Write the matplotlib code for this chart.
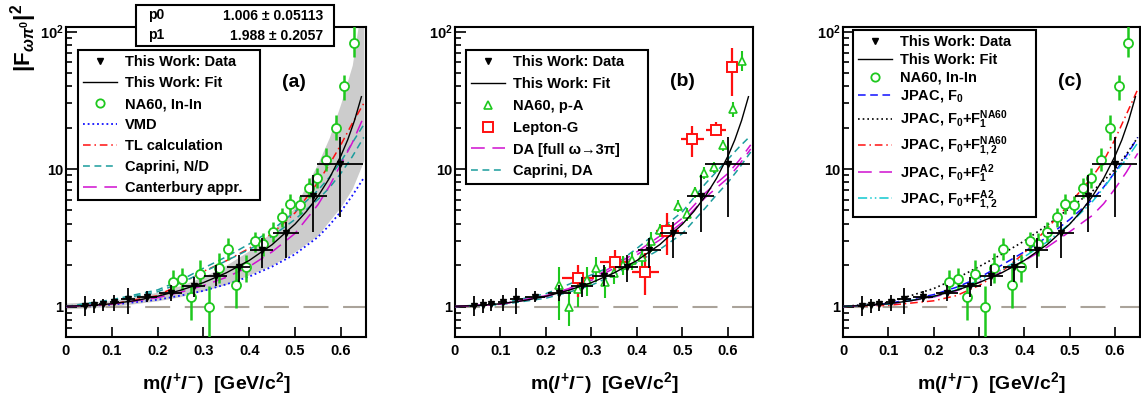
import numpy as np
import matplotlib
matplotlib.use('Agg')
import matplotlib.pyplot as plt
from matplotlib.lines import Line2D
from matplotlib.patches import Rectangle
from matplotlib.ticker import FixedLocator, FixedFormatter, NullFormatter

plt.rcParams['font.family'] = ['Liberation Sans', 'DejaVu Sans']
plt.rcParams['font.weight'] = 'bold'
plt.rcParams['mathtext.fontset'] = 'custom'
plt.rcParams['mathtext.rm'] = 'Liberation Sans:bold'
plt.rcParams['mathtext.it'] = 'Liberation Sans:italic:bold'
plt.rcParams['mathtext.bf'] = 'Liberation Sans:bold'
plt.rcParams['mathtext.sf'] = 'Liberation Sans:bold'

# ---------------- data: This Work ----------------
work_x = [0.041, 0.062, 0.080, 0.105, 0.135, 0.176, 0.229, 0.279, 0.327, 0.377, 0.427, 0.480, 0.540, 0.599]
work_xerr = [0.008, 0.008, 0.008, 0.010, 0.015, 0.022, 0.025, 0.025, 0.025, 0.025, 0.025, 0.029, 0.029, 0.050]
work_y = [1.01, 1.02, 1.04, 1.08, 1.13, 1.18, 1.26, 1.41, 1.67, 1.95, 2.58, 3.40, 6.35, 10.9]
work_lo = [0.85, 0.90, 0.92, 0.92, 0.88, 1.08, 1.09, 1.18, 1.40, 1.52, 1.90, 2.24, 3.50, 4.5]
work_hi = [1.19, 1.14, 1.14, 1.22, 1.36, 1.29, 1.44, 1.65, 2.00, 2.37, 3.13, 4.13, 9.00, 17.0]

# fit curve as drawn
fit_x = [0, 0.05, 0.1, 0.15, 0.2, 0.25, 0.3, 0.35, 0.4, 0.45, 0.5, 0.525, 0.55, 0.575, 0.6, 0.615, 0.63, 0.645]
fit_y = [1.006, 1.016, 1.047, 1.102, 1.187, 1.312, 1.492, 1.758, 2.163, 2.819, 3.976, 4.92, 6.33, 8.57, 12.45, 16.3, 22.6, 33.6]

# ---------------- NA60 In-In ----------------
na60in_x = [0.233, 0.253, 0.273, 0.292, 0.313, 0.333, 0.353, 0.372, 0.392, 0.412, 0.431, 0.451, 0.471, 0.490, 0.510, 0.530, 0.548, 0.568, 0.589, 0.608, 0.628]
na60in_y = [1.50, 1.58, 1.18, 1.72, 0.99, 1.90, 2.62, 1.44, 1.95, 3.00, 2.85, 3.50, 4.45, 5.60, 5.50, 7.30, 8.60, 11.7, 19.9, 40.0, 82.8]
na60in_lo = [1.26, 1.32, 0.80, 1.40, 0.60, 1.48, 2.19, 0.98, 1.52, 2.50, 2.35, 2.95, 3.80, 4.70, 4.70, 6.20, 7.30, 9.6, 16.2, 31.6, 65.0]
na60in_hi = [1.85, 1.90, 1.40, 2.18, 1.40, 2.45, 3.15, 2.00, 2.37, 3.50, 3.45, 4.10, 5.20, 6.60, 6.40, 8.60, 10.1, 14.2, 24.6, 48.0, 110.0]

# ---------------- NA60 p-A ----------------
na60pa_x = [0.229, 0.251, 0.270, 0.290, 0.310, 0.330, 0.350, 0.370, 0.390, 0.410, 0.430, 0.450, 0.470, 0.490, 0.510, 0.528, 0.548, 0.569, 0.590, 0.611, 0.630]
na60pa_y = [1.44, 1.00, 1.35, 1.56, 1.90, 1.52, 1.76, 2.00, 2.18, 2.28, 3.00, 3.60, 3.60, 5.40, 4.70, 6.80, 9.30, 10.3, 14.9, 27.4, 61.0]
na60pa_lo = [0.80, 0.72, 1.00, 1.20, 1.50, 1.15, 1.45, 1.70, 1.85, 1.95, 2.50, 3.20, 3.20, 4.90, 4.20, 6.20, 8.50, 9.4, 13.5, 24.0, 52.0]
na60pa_hi = [1.95, 1.30, 1.70, 1.95, 2.30, 1.95, 2.10, 2.35, 2.50, 2.60, 3.50, 4.00, 4.00, 6.00, 5.20, 7.40, 10.3, 11.3, 16.4, 31.0, 72.0]

# ---------------- Lepton-G ----------------
lepg_x = [0.271, 0.352, 0.418, 0.467, 0.522, 0.574, 0.608]
lepg_xerr = [0.035, 0.033, 0.030, 0.025, 0.025, 0.022, 0.008]
lepg_y = [1.62, 2.12, 1.79, 3.55, 16.5, 19.3, 55.0]
lepg_lo = [1.18, 1.65, 1.22, 2.37, 12.2, 17.6, 34.0]
lepg_hi = [2.00, 2.57, 2.44, 4.75, 20.6, 22.0, 76.0]

# ---------------- theory curves ----------------
grid = [0, 0.1, 0.2, 0.25, 0.3, 0.35, 0.4, 0.45, 0.5, 0.55, 0.575, 0.6, 0.625, 0.65]
band_hi = [1.06, 1.10, 1.27, 1.42, 1.65, 2.0, 2.55, 3.5, 5.3, 11.0, 17.0, 30.0, 57.0, 200.0]
band_lo = [0.96, 1.00, 1.10, 1.18, 1.30, 1.45, 1.70, 2.0, 2.5, 3.3, 4.2, 5.3, 7.2, 11.5]
vmd = [1.0, 1.03, 1.12, 1.20, 1.30, 1.45, 1.65, 1.95, 2.4, 3.2, 3.9, 4.9, 6.4, 8.6]
tl = [1.0, 1.04, 1.20, 1.45, 1.80, 2.15, 2.65, 3.4, 4.8, 8.0, 10.8, 15.0, 21.5, 30.0]
caprini_nd_hi = [1.0, 1.12, 1.32, 1.55, 1.90, 2.30, 2.85, 3.6, 4.9, 7.0, 8.7, 11.3, 15.5, 21.0]
caprini_nd_lo = [1.0, 1.10, 1.28, 1.48, 1.78, 2.15, 2.60, 3.25, 4.3, 6.0, 7.3, 9.3, 12.3, 17.0]
canterbury = [1.0, 1.04, 1.16, 1.27, 1.42, 1.63, 1.95, 2.5, 3.4, 5.5, 7.5, 10.8, 15.5, 24.0]

da_hi = [1.0, 1.04, 1.20, 1.35, 1.60, 1.98, 2.50, 3.25, 4.4, 6.7, 7.9, 9.3, 11.6, 15.0]
da_lo = [1.0, 1.04, 1.18, 1.32, 1.55, 1.90, 2.38, 3.05, 4.1, 6.2, 7.3, 8.6, 10.8, 14.0]
caprini_da_hi = [1.0, 1.05, 1.24, 1.45, 1.70, 2.00, 2.65, 3.6, 4.9, 7.8, 9.6, 11.8, 14.5, 17.5]
caprini_da_lo = [1.0, 1.03, 1.15, 1.27, 1.43, 1.70, 2.10, 2.6, 3.4, 5.2, 6.5, 8.0, 10.2, 13.3]

jpac_f0 = [1.0, 1.05, 1.22, 1.38, 1.62, 2.0, 2.5, 3.2, 4.3, 6.0, 7.4, 9.5, 12.5, 17.0]
jpac_na60_1 = [1.0, 1.07, 1.35, 1.60, 1.95, 2.4, 3.0, 3.9, 5.2, 6.9, 8.2, 10.0, 12.8, 17.0]
jpac_na60_12 = [1.0, 1.02, 1.10, 1.20, 1.42, 1.8, 2.45, 3.7, 5.6, 8.8, 11.5, 16.5, 25.0, 38.0]
jpac_a2_1 = [1.0, 1.04, 1.17, 1.30, 1.50, 1.78, 2.15, 2.7, 3.5, 4.6, 5.6, 7.2, 9.5, 13.0]
jpac_a2_12 = [1.0, 1.04, 1.18, 1.32, 1.55, 1.85, 2.30, 2.95, 4.0, 5.8, 7.3, 9.4, 11.8, 15.5]

labels_a = ['This Work: Data', 'This Work: Fit', 'NA60, In-In', 'VMD', 'TL calculation',
            'Caprini, N/D', 'Canterbury appr.']
labels_b = ['This Work: Data', 'This Work: Fit', 'NA60, p-A', 'Lepton-G',
            'DA [full \u03c9\u21923\u03c0]', 'Caprini, DA']
labels_c = ['This Work: Data', 'This Work: Fit', 'NA60, In-In', 'JPAC, F$_\\mathrm{0}$',
            'JPAC, F$_\\mathrm{0}$+F$_\\mathrm{1}^\\mathrm{NA60}$',
            'JPAC, F$_\\mathrm{0}$+F$_\\mathrm{1,2}^\\mathrm{NA60}$',
            'JPAC, F$_\\mathrm{0}$+F$_\\mathrm{1}^\\mathrm{A2}$',
            'JPAC, F$_\\mathrm{0}$+F$_\\mathrm{1,2}^\\mathrm{A2}$']

# ---------------- styles ----------------
GREEN = '#1ec81e'
TEAL = '#1a9c9c'
CYAN = '#10c8d0'
MAG = '#d010d0'
RED = '#ff1010'
BLUE = '#1010ff'
LW = 1.1

sty_vmd = dict(color=BLUE, lw=1.3, dashes=(1, 1.6))
sty_tl = dict(color=RED, lw=LW, dashes=(5, 2.5, 1, 2.5))
sty_teal = dict(color=TEAL, lw=LW, dashes=(4.5, 3))
sty_cant = dict(color=MAG, lw=LW, dashes=(9, 5))
sty_da = dict(color=MAG, lw=LW, dashes=(9, 5))
sty_f0 = dict(color=BLUE, lw=LW, dashes=(5, 3))
sty_na1 = dict(color='black', lw=1.2, dashes=(1, 1.8))
sty_na12 = dict(color=RED, lw=LW, dashes=(5, 2.5, 1, 2.5))
sty_a21 = dict(color=MAG, lw=LW, dashes=(9, 5))
sty_a212 = dict(color=CYAN, lw=LW, dashes=(6, 2, 1, 2, 1, 2))
sty_fit = dict(color='black', lw=1.0)

W, H = 1141, 401
fig = plt.figure(figsize=(W / 100, H / 100), dpi=100)

def px_axes(l, r, t, b):
    return fig.add_axes([l / W, 1 - b / H, (r - l) / W, (b - t) / H])

ax_a = px_axes(66, 366, 27, 337)
ax_b = px_axes(455, 753, 27, 337)
ax_c = px_axes(843, 1140, 27, 337)

def setup(ax):
    ax.set_yscale('log')
    ax.set_xlim(0, 0.655)
    ax.set_ylim(0.6, 108)
    ax.axhline(1.0, color='#aaa39a', lw=1.5, dashes=(12, 7), zorder=1)
    ax.xaxis.set_major_locator(FixedLocator([0, 0.1, 0.2, 0.3, 0.4, 0.5, 0.6]))
    ax.xaxis.set_major_formatter(FixedFormatter(['0', '0.1', '0.2', '0.3', '0.4', '0.5', '0.6']))
    ax.yaxis.set_major_locator(FixedLocator([1, 10, 100]))
    ax.yaxis.set_major_formatter(FixedFormatter(['1', '10', '10$^2$']))
    minors = [0.6, 0.7, 0.8, 0.9] + list(range(2, 10)) + list(range(20, 100, 10))
    ax.yaxis.set_minor_locator(FixedLocator(minors))
    ax.yaxis.set_minor_formatter(NullFormatter())
    ax.tick_params(which='both', direction='in', top=False, right=False, width=1.2,
                   labelsize=10.5, colors='black')
    ax.tick_params(axis='y', which='major', length=8, pad=2)
    ax.tick_params(axis='y', which='minor', length=4.5)
    ax.tick_params(axis='x', which='major', length=7, pad=5)
    for s in ax.spines.values():
        s.set_linewidth(1.5)
    ax.set_xlabel('m($\\mathit{l}^{+}\\mathit{l}^{-}$)  [GeV/c$^{2}$]', fontsize=14,
                  fontweight='bold')
    ax.xaxis.set_label_coords(0.5, -(383 - 337) / 310)
    ax.xaxis.label.set_va('center')

def errpts(ax, x, y, lo, hi, xerr=None, **kw):
    y = np.asarray(y); lo = np.asarray(lo); hi = np.asarray(hi)
    return ax.errorbar(x, y, yerr=[y - lo, hi - y], xerr=xerr, capsize=0, **kw)

def draw_work(ax):
    errpts(ax, work_x, work_y, work_lo, work_hi, xerr=work_xerr, fmt='v', color='black',
           ms=4.5, elinewidth=1.3, zorder=6)
    ax.plot(fit_x, fit_y, **sty_fit, zorder=7)

def draw_na60in(ax):
    errpts(ax, na60in_x, na60in_y, na60in_lo, na60in_hi, fmt='o', color=GREEN, ms=6.5,
           mfc='white', mec=GREEN, mew=1.3, elinewidth=1.8, zorder=5)

def legend(ax, handles, labels, x0, ytop, w, spacing):
    lg = ax.legend(handles, labels, loc='upper left', bbox_to_anchor=(x0, ytop - 0.6, w, 0.6),
                   mode='expand', borderaxespad=0, fancybox=False, framealpha=1,
                   edgecolor='black', prop=dict(size=10.5, weight='bold'),
                   handlelength=2.3, handletextpad=0.6, labelspacing=spacing,
                   borderpad=0.35)
    lg.get_frame().set_linewidth(1.5)
    lg.set_zorder(10)
    return lg

# ---------- panel (a) ----------
setup(ax_a)
ax_a.fill_between(grid, band_lo, band_hi, color='#cccccc', lw=0, zorder=0.5)
ax_a.plot(grid, vmd, **sty_vmd, zorder=3)
ax_a.plot(grid, tl, **sty_tl, zorder=3)
ax_a.plot(grid, caprini_nd_hi, **sty_teal, zorder=3)
ax_a.plot(grid, caprini_nd_lo, **sty_teal, zorder=3)
ax_a.plot(grid, canterbury, **sty_cant, zorder=3)
draw_na60in(ax_a)
draw_work(ax_a)

h_data = Line2D([], [], marker='v', color='black', ls='none', ms=5)
h_fit = Line2D([], [], **sty_fit)
h_na60in = Line2D([], [], marker='o', ls='none', mfc='white', mec=GREEN, mew=1.3, ms=6)
h_a = [h_data, h_fit, h_na60in, Line2D([], [], **sty_vmd), Line2D([], [], **sty_tl),
       Line2D([], [], **sty_teal), Line2D([], [], **sty_cant)]
legend(ax_a, h_a, labels_a, (78 - 66) / 300, (337 - 50) / 310, (260 - 78) / 300, 0.48)
ax_a.text(0.76, 0.82, '(a)', transform=ax_a.transAxes, fontsize=14, fontweight='bold',
          ha='center', va='center')

# ---------- panel (b) ----------
setup(ax_b)
ax_b.plot(grid, caprini_da_hi, **sty_teal, zorder=3)
ax_b.plot(grid, caprini_da_lo, **sty_teal, zorder=3)
ax_b.plot(grid, da_hi, **sty_da, zorder=3)
ax_b.plot(grid, da_lo, **sty_da, zorder=3)
errpts(ax_b, na60pa_x, na60pa_y, na60pa_lo, na60pa_hi, fmt='^', color=GREEN, ms=6,
       mfc='white', mec=GREEN, mew=1.2, elinewidth=1.5, zorder=5)
errpts(ax_b, lepg_x, lepg_y, lepg_lo, lepg_hi, xerr=lepg_xerr, fmt='s', color=RED, ms=6.5,
       mfc='white', mec=RED, mew=1.4, elinewidth=1.6, zorder=5)
draw_work(ax_b)
h_b = [h_data, h_fit,
       Line2D([], [], marker='^', ls='none', mfc='white', mec=GREEN, mew=1.2, ms=6),
       Line2D([], [], marker='s', ls='none', mfc='white', mec=RED, mew=1.4, ms=6.5),
       Line2D([], [], **sty_da), Line2D([], [], **sty_teal)]
legend(ax_b, h_b, labels_b, (466 - 455) / 298, (337 - 50) / 310, (648 - 466) / 298, 0.54)
ax_b.text((682 - 455) / 298, (337 - 82) / 310, '(b)', transform=ax_b.transAxes,
          fontsize=14, fontweight='bold', ha='center', va='center')

# ---------- panel (c) ----------
setup(ax_c)
ax_c.plot(grid, jpac_f0, **sty_f0, zorder=3)
ax_c.plot(grid, jpac_na60_1, **sty_na1, zorder=3)
ax_c.plot(grid, jpac_na60_12, **sty_na12, zorder=3)
ax_c.plot(grid, jpac_a2_1, **sty_a21, zorder=3)
ax_c.plot(grid, jpac_a2_12, **sty_a212, zorder=3)
draw_na60in(ax_c)
draw_work(ax_c)
h_c = [h_data, h_fit, h_na60in, Line2D([], [], **sty_f0), Line2D([], [], **sty_na1),
       Line2D([], [], **sty_na12), Line2D([], [], **sty_a21), Line2D([], [], **sty_a212)]
legend(ax_c, h_c, labels_c, (853 - 843) / 297, (337 - 30) / 310, (1036 - 853) / 297, 0.26)
ax_c.text((1070 - 843) / 297, (337 - 82) / 310, '(c)', transform=ax_c.transAxes,
          fontsize=14, fontweight='bold', ha='center', va='center')

# ---------- y label ----------
fig.text(24 / W, 1 - 4 / H, '|F$_{\\omega\\pi^{0}}$|$^{2}$', rotation=90, ha='center',
         va='top', fontsize=16, fontweight='bold')

# ---------- fit parameter box ----------
fig.patches.append(Rectangle((136 / W, 1 - 46 / H), 198 / W, 41 / H, transform=fig.transFigure,
                             facecolor='white', edgecolor='black', lw=1.5, zorder=20))
for row, (nm, val) in enumerate([('p0', '1.006 \u00b1 0.05113'), ('p1', '1.988 \u00b1 0.2057')]):
    yy = 1 - (15.5 + 20 * row) / H
    fig.text(148 / W, yy, nm, ha='left', va='center', fontsize=10, fontweight='bold', zorder=21)
    fig.text(323 / W, yy, val, ha='right', va='center', fontsize=10, fontweight='bold', zorder=21)

fig.savefig('out.png', dpi=100)
